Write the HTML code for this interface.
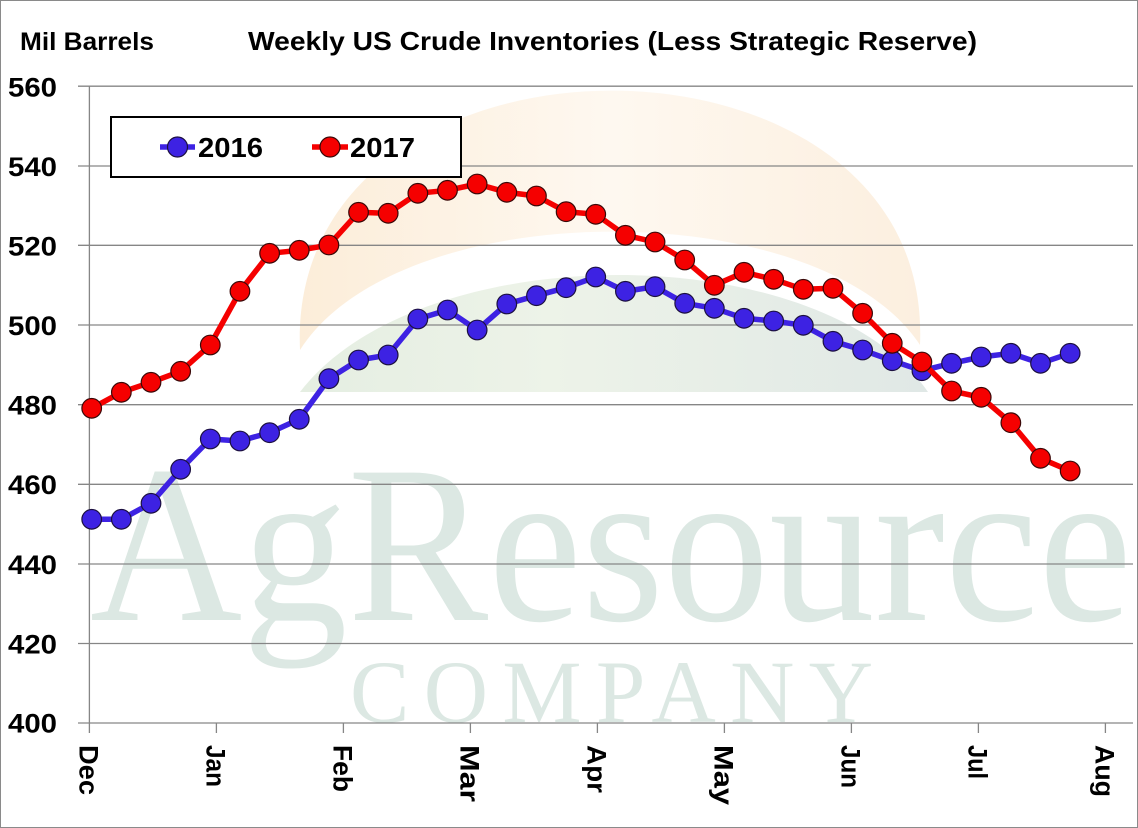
<!DOCTYPE html>
<html>
<head>
<meta charset="utf-8">
<style>
html,body{margin:0;padding:0;background:#fff;}
svg{display:block;}
text{font-family:"Liberation Sans",Arial,sans-serif;font-weight:bold;fill:#000;}
</style>
</head>
<body>
<svg width="1138" height="828" viewBox="0 0 1138 828" xmlns="http://www.w3.org/2000/svg">
<defs>
<linearGradient id="og" x1="0" y1="0" x2="1" y2="0">
<stop offset="0" stop-color="#fcedd9"/>
<stop offset="0.5" stop-color="#fef8f0"/>
<stop offset="1" stop-color="#fcefdf"/>
</linearGradient>
<linearGradient id="gg" x1="0" y1="0" x2="1" y2="0">
<stop offset="0" stop-color="#e5eee2"/>
<stop offset="0.4" stop-color="#edf3e8"/>
<stop offset="1" stop-color="#e0e8e6"/>
</linearGradient>
</defs>
<rect x="0" y="0" width="1138" height="828" fill="#fff"/>
<rect x="0.5" y="0.5" width="1137" height="827" fill="none" stroke="#8a8a8a" stroke-width="1"/>

<!-- watermark logo -->
<path d="M300,350 C285,5 935,5 920,345 C820,193 400,193 300,350 Z" fill="url(#og)"/>
<path d="M300,392 C420,236 820,236 928,392 Z" fill="url(#gg)"/>
<text x="90" y="620" style="font-family:'Liberation Serif',serif;font-weight:normal;fill:#dce8e3" font-size="225" textLength="1042" lengthAdjust="spacingAndGlyphs">AgResource</text>
<text x="350" y="722" style="font-family:'Liberation Serif',serif;font-weight:normal;fill:#dce8e3" font-size="89" textLength="523" lengthAdjust="spacing">COMPANY</text>

<!-- gridlines -->
<g stroke="#868686" stroke-width="1.3">
<line x1="78" y1="86.2" x2="1133" y2="86.2"/>
<line x1="78" y1="166" x2="1133" y2="166"/>
<line x1="78" y1="245.3" x2="1133" y2="245.3"/>
<line x1="78" y1="325" x2="1133" y2="325"/>
<line x1="78" y1="404.7" x2="1133" y2="404.7"/>
<line x1="78" y1="484.3" x2="1133" y2="484.3"/>
<line x1="78" y1="564" x2="1133" y2="564"/>
<line x1="78" y1="643.5" x2="1133" y2="643.5"/>
<line x1="78" y1="723" x2="1133" y2="723"/>
<line x1="89.4" y1="86.2" x2="89.4" y2="733"/>
<line x1="216.4" y1="723" x2="216.4" y2="733"/>
<line x1="343.4" y1="723" x2="343.4" y2="733"/>
<line x1="470.4" y1="723" x2="470.4" y2="733"/>
<line x1="597.4" y1="723" x2="597.4" y2="733"/>
<line x1="724.4" y1="723" x2="724.4" y2="733"/>
<line x1="851.4" y1="723" x2="851.4" y2="733"/>
<line x1="978.4" y1="723" x2="978.4" y2="733"/>
<line x1="1105.4" y1="723" x2="1105.4" y2="733"/>
</g>

<!-- titles -->
<text x="20" y="50" font-size="25" textLength="134" lengthAdjust="spacingAndGlyphs">Mil Barrels</text>
<text x="248" y="50" font-size="26" textLength="729" lengthAdjust="spacingAndGlyphs">Weekly US Crude Inventories (Less Strategic Reserve)</text>

<!-- y labels -->
<g font-size="27" text-anchor="end">
<text x="57" y="96.5" textLength="49" lengthAdjust="spacingAndGlyphs">560</text>
<text x="57" y="176" textLength="49" lengthAdjust="spacingAndGlyphs">540</text>
<text x="57" y="255.5" textLength="49" lengthAdjust="spacingAndGlyphs">520</text>
<text x="57" y="335" textLength="49" lengthAdjust="spacingAndGlyphs">500</text>
<text x="57" y="414.5" textLength="49" lengthAdjust="spacingAndGlyphs">480</text>
<text x="57" y="494" textLength="49" lengthAdjust="spacingAndGlyphs">460</text>
<text x="57" y="574" textLength="49" lengthAdjust="spacingAndGlyphs">440</text>
<text x="57" y="653.5" textLength="49" lengthAdjust="spacingAndGlyphs">420</text>
<text x="57" y="732.5" textLength="49" lengthAdjust="spacingAndGlyphs">400</text>
</g>

<!-- x labels (rotated) -->
<g font-size="27">
<text transform="translate(79.6,745) rotate(90)" textLength="50" lengthAdjust="spacingAndGlyphs">Dec</text>
<text transform="translate(206.6,745) rotate(90)" textLength="42" lengthAdjust="spacingAndGlyphs">Jan</text>
<text transform="translate(333.6,745) rotate(90)" textLength="47" lengthAdjust="spacingAndGlyphs">Feb</text>
<text transform="translate(460.6,745) rotate(90)" textLength="57" lengthAdjust="spacingAndGlyphs">Mar</text>
<text transform="translate(587.6,745) rotate(90)" textLength="48" lengthAdjust="spacingAndGlyphs">Apr</text>
<text transform="translate(714.6,745) rotate(90)" textLength="60" lengthAdjust="spacingAndGlyphs">May</text>
<text transform="translate(841.6,745) rotate(90)" textLength="43" lengthAdjust="spacingAndGlyphs">Jun</text>
<text transform="translate(968.6,745) rotate(90)" textLength="34" lengthAdjust="spacingAndGlyphs">Jul</text>
<text transform="translate(1095.6,745) rotate(90)" textLength="52" lengthAdjust="spacingAndGlyphs">Aug</text>
</g>

<!-- 2016 series -->
<polyline fill="none" stroke="#3d22e3" stroke-width="5.5" stroke-linejoin="round" points="91.7,519.3 121.35,519.3 151,503.3 180.65,469.3 210.3,439 239.95,441 269.6,432.7 299.25,419.3 328.9,378.7 358.55,360 388.2,355 417.85,319 447.5,310 477.15,330 506.8,304 536.45,295.7 566.1,287.7 595.75,277 625.4,291.3 655.05,286.7 684.7,303.3 714.35,308.3 744,318.3 773.65,321 803.3,325.3 832.95,341.3 862.6,350 892.25,360.7 921.9,370.7 951.55,363.3 981.2,357 1010.85,353.3 1040.5,363.3 1070.15,353.3"/>
<g fill="#3d22e3" stroke="#1c1040" stroke-width="1.2">
<circle cx="91.7" cy="519.3" r="9.8"/><circle cx="121.35" cy="519.3" r="9.8"/><circle cx="151" cy="503.3" r="9.8"/><circle cx="180.65" cy="469.3" r="9.8"/><circle cx="210.3" cy="439" r="9.8"/><circle cx="239.95" cy="441" r="9.8"/><circle cx="269.6" cy="432.7" r="9.8"/><circle cx="299.25" cy="419.3" r="9.8"/><circle cx="328.9" cy="378.7" r="9.8"/><circle cx="358.55" cy="360" r="9.8"/><circle cx="388.2" cy="355" r="9.8"/><circle cx="417.85" cy="319" r="9.8"/><circle cx="447.5" cy="310" r="9.8"/><circle cx="477.15" cy="330" r="9.8"/><circle cx="506.8" cy="304" r="9.8"/><circle cx="536.45" cy="295.7" r="9.8"/><circle cx="566.1" cy="287.7" r="9.8"/><circle cx="595.75" cy="277" r="9.8"/><circle cx="625.4" cy="291.3" r="9.8"/><circle cx="655.05" cy="286.7" r="9.8"/><circle cx="684.7" cy="303.3" r="9.8"/><circle cx="714.35" cy="308.3" r="9.8"/><circle cx="744" cy="318.3" r="9.8"/><circle cx="773.65" cy="321" r="9.8"/><circle cx="803.3" cy="325.3" r="9.8"/><circle cx="832.95" cy="341.3" r="9.8"/><circle cx="862.6" cy="350" r="9.8"/><circle cx="892.25" cy="360.7" r="9.8"/><circle cx="921.9" cy="370.7" r="9.8"/><circle cx="951.55" cy="363.3" r="9.8"/><circle cx="981.2" cy="357" r="9.8"/><circle cx="1010.85" cy="353.3" r="9.8"/><circle cx="1040.5" cy="363.3" r="9.8"/><circle cx="1070.15" cy="353.3" r="9.8"/>
</g>

<!-- 2017 series -->
<polyline fill="none" stroke="#f50000" stroke-width="5.5" stroke-linejoin="round" points="91.7,408.3 121.35,392.3 151,382.3 180.65,371.3 210.3,345 239.95,291.3 269.6,253.3 299.25,250.3 328.9,245 358.55,212.3 388.2,213.3 417.85,193.3 447.5,190.3 477.15,184 506.8,192.3 536.45,196 566.1,211.7 595.75,214.3 625.4,235.3 655.05,242 684.7,260 714.35,285.3 744,272.3 773.65,279.3 803.3,289.3 832.95,288.3 862.6,313.3 892.25,343.3 921.9,362 951.55,391 981.2,397.3 1010.85,422.7 1040.5,458.3 1070.15,471"/>
<g fill="#f50000" stroke="#3a0808" stroke-width="1.2">
<circle cx="91.7" cy="408.3" r="9.8"/><circle cx="121.35" cy="392.3" r="9.8"/><circle cx="151" cy="382.3" r="9.8"/><circle cx="180.65" cy="371.3" r="9.8"/><circle cx="210.3" cy="345" r="9.8"/><circle cx="239.95" cy="291.3" r="9.8"/><circle cx="269.6" cy="253.3" r="9.8"/><circle cx="299.25" cy="250.3" r="9.8"/><circle cx="328.9" cy="245" r="9.8"/><circle cx="358.55" cy="212.3" r="9.8"/><circle cx="388.2" cy="213.3" r="9.8"/><circle cx="417.85" cy="193.3" r="9.8"/><circle cx="447.5" cy="190.3" r="9.8"/><circle cx="477.15" cy="184" r="9.8"/><circle cx="506.8" cy="192.3" r="9.8"/><circle cx="536.45" cy="196" r="9.8"/><circle cx="566.1" cy="211.7" r="9.8"/><circle cx="595.75" cy="214.3" r="9.8"/><circle cx="625.4" cy="235.3" r="9.8"/><circle cx="655.05" cy="242" r="9.8"/><circle cx="684.7" cy="260" r="9.8"/><circle cx="714.35" cy="285.3" r="9.8"/><circle cx="744" cy="272.3" r="9.8"/><circle cx="773.65" cy="279.3" r="9.8"/><circle cx="803.3" cy="289.3" r="9.8"/><circle cx="832.95" cy="288.3" r="9.8"/><circle cx="862.6" cy="313.3" r="9.8"/><circle cx="892.25" cy="343.3" r="9.8"/><circle cx="921.9" cy="362" r="9.8"/><circle cx="951.55" cy="391" r="9.8"/><circle cx="981.2" cy="397.3" r="9.8"/><circle cx="1010.85" cy="422.7" r="9.8"/><circle cx="1040.5" cy="458.3" r="9.8"/><circle cx="1070.15" cy="471" r="9.8"/>
</g>

<!-- legend -->
<rect x="111" y="117" width="350" height="60" fill="#fff" stroke="#000" stroke-width="2"/>
<line x1="160" y1="147" x2="195" y2="147" stroke="#3d22e3" stroke-width="5.5"/>
<circle cx="177.5" cy="147" r="10" fill="#3d22e3" stroke="#1c1040" stroke-width="1.2"/>
<text x="198" y="157" font-size="28" textLength="65" lengthAdjust="spacingAndGlyphs">2016</text>
<line x1="312" y1="147" x2="348" y2="147" stroke="#f50000" stroke-width="5.5"/>
<circle cx="330" cy="147" r="10" fill="#f50000" stroke="#3a0808" stroke-width="1.2"/>
<text x="350" y="157" font-size="28" textLength="65" lengthAdjust="spacingAndGlyphs">2017</text>
</svg>
</body>
</html>
